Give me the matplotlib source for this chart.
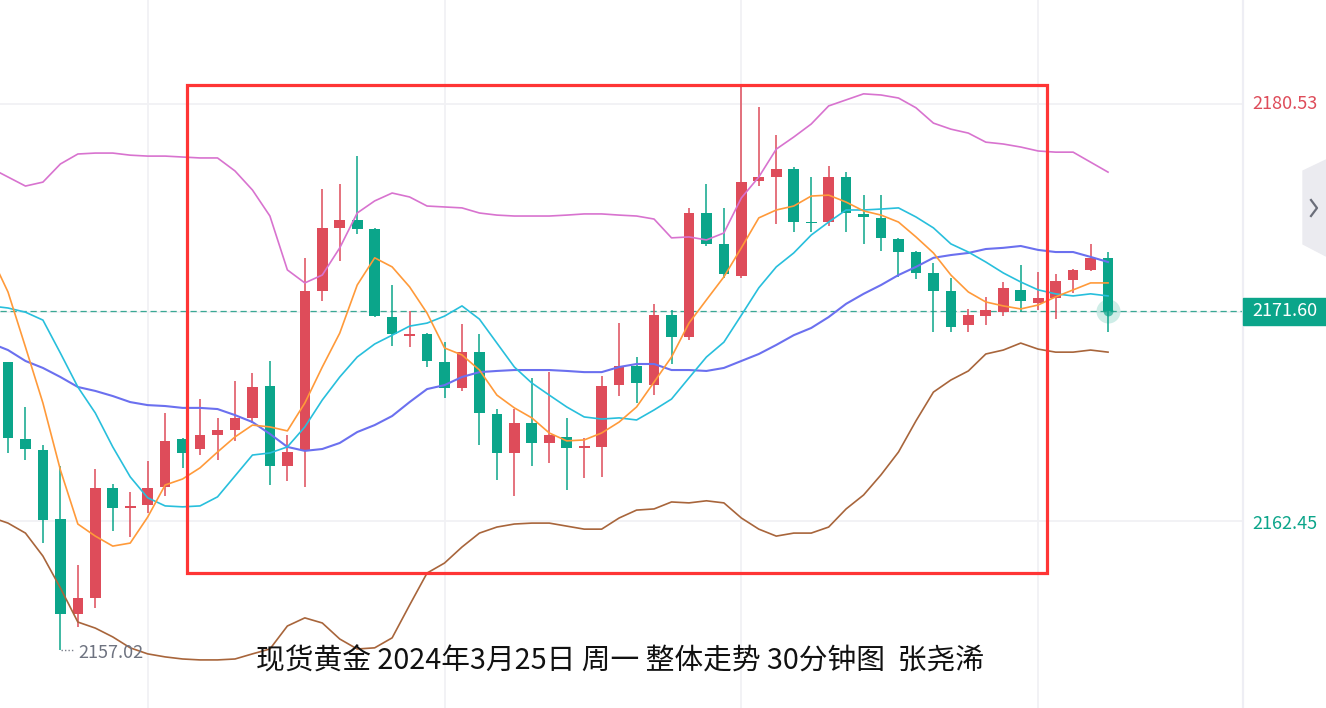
import matplotlib
matplotlib.use("Agg")
import matplotlib.pyplot as plt
import matplotlib.transforms as mtransforms
from matplotlib.patches import Rectangle, Polygon
import numpy as np

plt.rcParams['font.family'] = ['Noto Sans CJK SC', 'DejaVu Sans']

# 30-minute candles (index 0 = left-most candle)
opens = [2169.42, 2166.11, 2165.64, 2162.66, 2158.58, 2159.27, 2164.01, 2163.15, 2163.27, 2164.05,
         2166.11, 2165.68, 2166.28, 2166.50, 2167.02, 2168.39, 2164.95, 2165.64, 2172.49, 2175.20,
         2175.54, 2175.15, 2171.36, 2170.54, 2170.63, 2169.42, 2168.31, 2169.85, 2167.19, 2165.51,
         2166.80, 2165.94, 2166.20, 2165.73, 2165.77, 2168.43, 2169.25, 2168.43, 2171.44, 2170.50,
         2175.84, 2174.51, 2173.13, 2177.22, 2177.39, 2177.73, 2175.45, 2175.45, 2177.39, 2175.80,
         2175.63, 2174.72, 2174.16, 2173.26, 2172.49, 2171.01, 2171.40, 2171.57, 2172.53, 2171.97,
         2172.19, 2172.96, 2173.39, 2173.91]
highs = [2169.42, 2167.49, 2165.85, 2164.95, 2160.68, 2164.82, 2164.18, 2163.83, 2165.17, 2167.23,
         2166.15, 2167.83, 2167.02, 2168.61, 2168.95, 2169.47, 2166.28, 2173.91, 2176.87, 2177.09,
         2178.29, 2175.20, 2172.74, 2171.62, 2170.66, 2170.28, 2171.06, 2170.63, 2167.40, 2167.40,
         2168.74, 2168.99, 2167.02, 2166.16, 2168.82, 2171.10, 2169.64, 2171.93, 2171.66, 2176.06,
         2177.09, 2176.06, 2181.27, 2180.41, 2179.19, 2177.82, 2177.39, 2177.86, 2177.60, 2176.61,
         2176.61, 2174.76, 2174.20, 2173.69, 2173.05, 2171.71, 2172.23, 2172.87, 2173.60, 2173.30,
         2173.22, 2173.43, 2174.51, 2174.16]
lows = [2165.51, 2165.21, 2161.63, 2157.02, 2158.02, 2158.84, 2162.15, 2161.89, 2162.92, 2163.66,
        2164.87, 2165.42, 2165.21, 2166.03, 2166.80, 2164.13, 2164.31, 2164.05, 2172.06, 2173.78,
        2174.94, 2171.35, 2170.11, 2170.07, 2169.21, 2167.88, 2168.18, 2165.85, 2164.35, 2163.66,
        2164.95, 2165.08, 2163.92, 2164.44, 2164.48, 2167.96, 2167.66, 2168.00, 2169.34, 2170.37,
        2174.42, 2173.05, 2173.05, 2177.00, 2175.37, 2175.02, 2175.02, 2175.28, 2175.02, 2174.51,
        2174.21, 2173.09, 2173.00, 2170.71, 2170.71, 2170.71, 2171.01, 2171.40, 2171.57, 2171.66,
        2171.27, 2172.40, 2173.35, 2170.71]
closes = [2166.16, 2165.68, 2162.62, 2158.58, 2159.27, 2164.01, 2163.15, 2163.23, 2164.01, 2166.03,
          2165.51, 2166.28, 2166.50, 2167.02, 2168.35, 2164.95, 2165.55, 2172.49, 2175.20, 2175.54,
          2175.15, 2171.40, 2170.63, 2170.63, 2169.47, 2168.31, 2169.85, 2167.23, 2165.51, 2166.80,
          2165.94, 2166.28, 2165.73, 2165.77, 2168.39, 2169.25, 2168.52, 2171.44, 2170.50, 2175.84,
          2174.51, 2173.22, 2177.17, 2177.39, 2177.73, 2175.45, 2175.41, 2177.39, 2175.84, 2175.67,
          2174.77, 2174.16, 2173.26, 2172.49, 2170.93, 2171.44, 2171.66, 2172.62, 2172.06, 2172.19,
          2172.92, 2173.39, 2173.91, 2171.60]

# indicator lines, index -1 .. 63 (first point is the partly hidden bar on the left edge)
ma5 = [2174.03, 2172.44, 2170.07, 2167.66, 2164.78, 2162.45, 2161.93, 2161.50, 2161.63, 2162.75,
       2164.13, 2164.39, 2164.87, 2165.55, 2166.20, 2166.71, 2166.63, 2166.46, 2167.66, 2169.21,
       2170.67, 2172.74, 2173.91, 2173.52, 2172.66, 2171.53, 2170.03, 2169.73, 2169.08, 2168.00,
       2167.45, 2167.02, 2166.37, 2166.03, 2166.07, 2166.37, 2166.84, 2167.49, 2168.56, 2169.64,
       2171.10, 2172.10, 2173.09, 2174.34, 2175.63, 2175.97, 2176.14, 2176.57, 2176.61, 2176.31,
       2175.93, 2175.75, 2175.45, 2174.81, 2174.12, 2173.17, 2172.44, 2172.01, 2171.84, 2171.71,
       2171.88, 2172.23, 2172.53, 2172.83, 2172.83]
ma10 = [2171.84, 2171.75, 2171.57, 2171.23, 2169.81, 2168.35, 2167.23, 2165.77, 2164.48, 2163.58,
        2163.23, 2163.19, 2163.23, 2163.62, 2164.52, 2165.42, 2165.51, 2165.77, 2166.63, 2167.79,
        2168.78, 2169.64, 2170.20, 2170.58, 2170.97, 2171.10, 2171.40, 2171.84, 2171.27, 2170.24,
        2169.21, 2168.52, 2168.00, 2167.49, 2167.06, 2166.97, 2167.02, 2166.93, 2167.36, 2167.83,
        2168.74, 2169.64, 2170.28, 2171.44, 2172.62, 2173.52, 2174.12, 2174.89, 2175.45, 2175.97,
        2175.97, 2176.01, 2176.06, 2175.67, 2175.20, 2174.51, 2174.16, 2173.73, 2173.26, 2172.87,
        2172.53, 2172.36, 2172.27, 2172.36, 2172.27]
ma30 = [2170.24, 2169.94, 2169.47, 2169.17, 2168.78, 2168.35, 2168.18, 2167.96, 2167.70, 2167.57,
        2167.53, 2167.45, 2167.45, 2167.40, 2167.14, 2166.84, 2166.33, 2165.77, 2165.60, 2165.68,
        2165.94, 2166.41, 2166.71, 2167.10, 2167.70, 2168.26, 2168.43, 2168.78, 2168.99, 2169.04,
        2169.08, 2169.08, 2169.08, 2169.04, 2168.99, 2168.99, 2169.21, 2169.34, 2169.34, 2169.08,
        2169.08, 2169.04, 2169.17, 2169.47, 2169.77, 2170.16, 2170.58, 2170.89, 2171.36, 2171.93,
        2172.36, 2172.74, 2173.17, 2173.52, 2173.91, 2174.03, 2174.12, 2174.29, 2174.34, 2174.42,
        2174.25, 2174.16, 2174.16, 2173.95, 2173.73]
boll_up = [2177.78, 2177.39, 2177.00, 2177.17, 2177.95, 2178.38, 2178.42, 2178.42, 2178.33, 2178.29,
           2178.29, 2178.25, 2178.21, 2178.21, 2177.65, 2176.83, 2175.71, 2173.39, 2172.83, 2173.17,
           2174.34, 2175.84, 2176.36, 2176.70, 2176.53, 2176.14, 2176.10, 2176.06, 2175.84, 2175.75,
           2175.71, 2175.71, 2175.71, 2175.75, 2175.80, 2175.80, 2175.75, 2175.71, 2175.58, 2174.77,
           2174.81, 2174.68, 2174.98, 2176.49, 2177.39, 2178.59, 2179.11, 2179.67, 2180.45, 2180.71,
           2180.97, 2180.92, 2180.79, 2180.37, 2179.71, 2179.45, 2179.28, 2178.89, 2178.81, 2178.68,
           2178.51, 2178.46, 2178.46, 2178.03, 2177.60]
boll_dn = [2162.75, 2162.49, 2162.06, 2161.07, 2159.70, 2158.23, 2157.97, 2157.59, 2157.12, 2156.86,
           2156.73, 2156.64, 2156.60, 2156.60, 2156.64, 2156.86, 2157.07, 2158.06, 2158.41, 2158.19,
           2157.50, 2157.07, 2157.12, 2157.55, 2158.96, 2160.34, 2160.77, 2161.46, 2162.06, 2162.32,
           2162.45, 2162.49, 2162.49, 2162.36, 2162.23, 2162.23, 2162.71, 2163.05, 2163.10, 2163.40,
           2163.36, 2163.45, 2163.36, 2162.71, 2162.23, 2161.93, 2162.06, 2162.06, 2162.32, 2163.10,
           2163.70, 2164.57, 2165.55, 2166.89, 2168.13, 2168.65, 2169.04, 2169.77, 2169.94, 2170.24,
           2169.98, 2169.85, 2169.85, 2169.94, 2169.85]

last_price = 2171.60
axis_top, axis_bottom = 2180.53, 2162.45
low_mark = 2157.02
grid_prices = [2180.53, 2171.57, 2162.58]
grid_bars = [8, 25, 42, 59]
box_bars = (10.25, 59.51)      # highlighted region
box_prices = (2160.34, 2181.35)
title = "现货黄金 2024年3月25日 周一 整体走势 30分钟图  张尧浠"

UP, DOWN = "#de4c5a", "#0ba58a"

W, H = 1326, 708
fig = plt.figure(figsize=(W / 100, H / 100), dpi=100)
fig.patch.set_facecolor("white")
ax = fig.add_axes([0, 0, 1243 / W, 1])
ax.set_xlim(-0.458, 70.73)
ax.set_ylim(2154.53, 2185.01)
ax.axis("off")

for p in grid_prices:
    ax.axhline(p, color="#f1f1f4", lw=1.3, zorder=0)
for b in grid_bars:
    ax.axvline(b, color="#f1f1f4", lw=1.3, zorder=0)

# candles
idx = np.arange(len(opens))
o, h, l, c = map(np.array, (opens, highs, lows, closes))
cols = np.where(c >= o, UP, DOWN)
ax.vlines(idx, l, h, colors=cols, lw=1.1, zorder=3)
body = np.maximum(np.abs(c - o), 0.06)
ax.bar(idx, body, bottom=np.minimum(o, c), width=0.61, color=cols, zorder=4)

# indicators
xl = np.arange(-1, len(ma5) - 1)
ax.plot(xl, boll_up, color="#d873cf", lw=1.2, zorder=5)
ax.plot(xl, boll_dn, color="#a8653b", lw=1.2, zorder=5)
ax.plot(xl, ma30, color="#6b70ef", lw=1.5, zorder=5)
ax.plot(xl, ma10, color="#28bfdc", lw=1.2, zorder=5)
ax.plot(xl, ma5, color="#ff9a3a", lw=1.2, zorder=5)

# last price line and glow
ax.axhline(last_price, color="#3aa894", lw=0.9, ls=(0, (5, 3)), zorder=2)
ax.scatter([idx[-1]], [last_price], s=300, color=DOWN, alpha=0.2, lw=0, zorder=6)
ax.scatter([idx[-1]], [last_price], s=50, color=DOWN, alpha=0.7, lw=0, zorder=6)

# highlight rectangle
ax.add_patch(Rectangle((box_bars[0], box_prices[0]), box_bars[1] - box_bars[0],
                       box_prices[1] - box_prices[0], fill=False, ec="#ff3535", lw=2.3, zorder=7))

# low marker
ax.plot([3.05, 3.8], [low_mark, low_mark], ls=(0, (1, 1.5)), color="#7a7f8a", lw=1, zorder=6)
ax.text(4.0, low_mark - 0.12, f"{low_mark:.2f}", color="#6e7380", fontsize=13,
        va="center", ha="left", zorder=6)

# right price scale
trans = mtransforms.blended_transform_factory(ax.transAxes, ax.transData)
ax.plot([1.0, 1.0], [0, 1], transform=ax.transAxes, color="#eeeef4", lw=1.6, clip_on=False)
ax.text(1.0075, axis_top, f"{axis_top:.2f}", transform=trans, color="#de4c5a",
        fontsize=13, va="center", ha="left", clip_on=False)
ax.text(1.0075, axis_bottom, f"{axis_bottom:.2f}", transform=trans, color="#0ba58a",
        fontsize=13, va="center", ha="left", clip_on=False)
ax.add_patch(Rectangle((1.0, last_price - 0.58), 83 / 1243, 1.16, transform=trans,
                       color="#0ba58a", clip_on=False, zorder=8))
ax.text(1.0075, last_price, f"{last_price:.2f}", transform=trans, color="white",
        fontsize=13, va="center", ha="left", clip_on=False, zorder=9)

# side scroll tab
tab = [(1326, 160), (1303, 171), (1303, 244), (1326, 256)]
fig.patches.append(Polygon([(x / W, 1 - y / H) for x, y in tab], closed=True,
                           transform=fig.transFigure, color="#ebebf0", zorder=1))
chev = [(1311, 200), (1317, 208), (1311, 216)]
fig.lines.append(plt.Line2D([x / W for x, _ in chev], [1 - y / H for _, y in chev],
                            transform=fig.transFigure, color="#6b6e7a", lw=1.6))

fig.text(620 / W, 1 - 662 / H, title, fontsize=20.7, color="#111111",
         ha="center", va="center", zorder=10)

fig.savefig("out.png", dpi=100)
